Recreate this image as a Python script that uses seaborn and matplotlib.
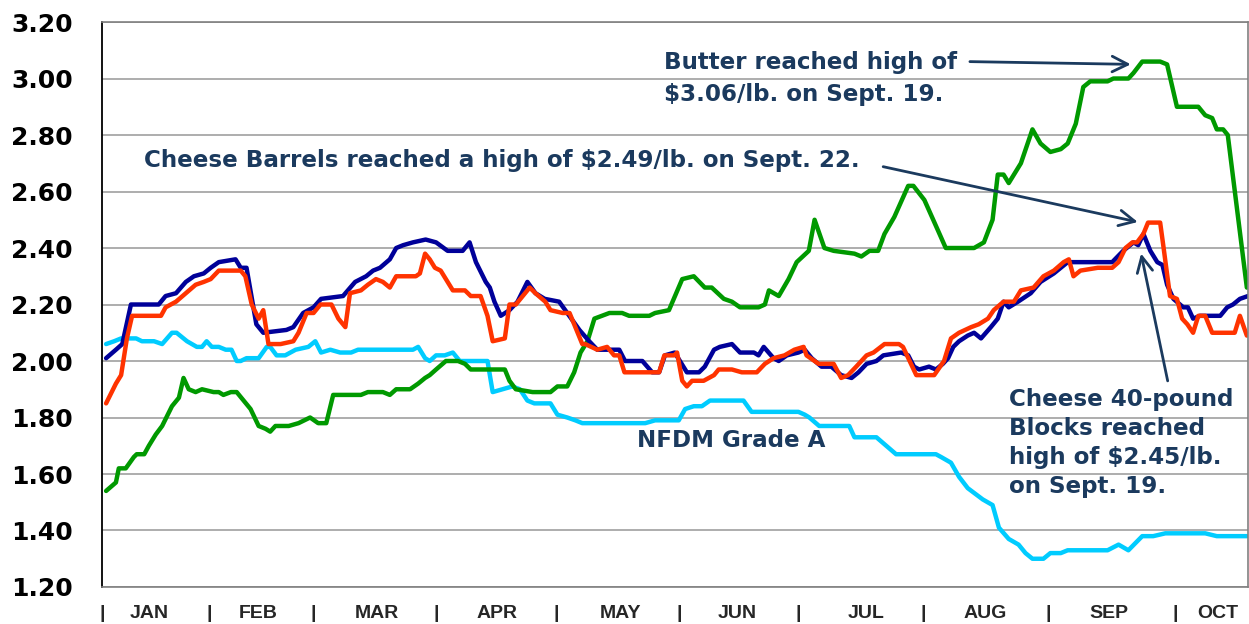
import numpy as np
import pandas as pd
import matplotlib
matplotlib.use('Agg')
import matplotlib.pyplot as plt
import seaborn as sns

# wholesale dairy prices, $/lb, by trading day of the year
butter = [(0, 1.54), (1.7, 1.57), (2.2, 1.62), (3.4, 1.62), (4.8, 1.66), (5.3, 1.67), (6.6, 1.67),
          (7.4, 1.70), (8.6, 1.74), (9.7, 1.77), (11.4, 1.84), (12.6, 1.87), (13.4, 1.94), (14.3, 1.90),
          (15.5, 1.89), (16.6, 1.90), (18.6, 1.89), (19.5, 1.89), (20.3, 1.88), (21.6, 1.89), (22.6, 1.89),
          (23.4, 1.87), (25.0, 1.83), (26.4, 1.77), (27.6, 1.76), (28.4, 1.75), (29.3, 1.77), (31.6, 1.77),
          (33.3, 1.78), (35.3, 1.80), (36.7, 1.78), (38.1, 1.78), (39.3, 1.88), (44.1, 1.88), (45.3, 1.89),
          (47.9, 1.89), (49.1, 1.88), (50.2, 1.90), (52.6, 1.90), (54.0, 1.92), (55.2, 1.94), (56.0, 1.95),
          (57.1, 1.97), (58.8, 2.00), (60.9, 2.00), (62.1, 1.99), (63.1, 1.97), (69.0, 1.97), (69.8, 1.93),
          (70.9, 1.90), (73.8, 1.89), (76.9, 1.89), (78.1, 1.91), (79.8, 1.91), (81.0, 1.96), (82.1, 2.03),
          (83.3, 2.07), (84.5, 2.15), (87.1, 2.17), (89.3, 2.17), (90.5, 2.16), (94.0, 2.16), (95.0, 2.17),
          (97.4, 2.18), (99.7, 2.29), (101.7, 2.30), (103.6, 2.26), (104.8, 2.26), (106.9, 2.22), (108.3, 2.21),
          (109.7, 2.19), (112.9, 2.19), (114.0, 2.20), (114.7, 2.25), (116.4, 2.23), (118.1, 2.29), (119.5, 2.35),
          (121.6, 2.39), (122.6, 2.50), (124.3, 2.40), (125.9, 2.39), (129.5, 2.38), (130.7, 2.37), (132.1, 2.39),
          (133.6, 2.39), (134.7, 2.45), (136.4, 2.51), (138.8, 2.62), (139.7, 2.62), (141.6, 2.57), (144.0, 2.46),
          (145.3, 2.40), (150.2, 2.40), (151.9, 2.42), (153.4, 2.50), (154.3, 2.66), (155.3, 2.66), (156.2, 2.63),
          (158.3, 2.70), (160.3, 2.82), (161.7, 2.77), (163.4, 2.74), (165.2, 2.75), (166.4, 2.77), (167.8, 2.84),
          (169.1, 2.97), (170.3, 2.99), (173.3, 2.99), (174.3, 3.00), (176.9, 3.00), (177.8, 3.02), (179.3, 3.06),
          (182.4, 3.06), (183.6, 3.05), (185.3, 2.90), (189.0, 2.90), (190.2, 2.87), (191.4, 2.86), (192.2, 2.82),
          (193.3, 2.82), (194.1, 2.80), (197.4, 2.26)]

barrels = [(0, 1.85), (1.7, 1.92), (2.6, 1.95), (3.6, 2.08), (4.5, 2.16), (9.5, 2.16), (10.3, 2.19),
           (12.1, 2.21), (13.8, 2.24), (15.5, 2.27), (16.9, 2.28), (18.1, 2.29), (19.5, 2.32), (23.3, 2.32),
           (24.1, 2.30), (25.2, 2.20), (26.4, 2.15), (27.2, 2.18), (28.1, 2.06), (30.2, 2.06), (32.4, 2.07),
           (33.3, 2.10), (34.7, 2.17), (35.9, 2.17), (37.1, 2.20), (39.0, 2.20), (40.2, 2.15), (41.4, 2.12),
           (42.2, 2.24), (44.1, 2.25), (45.3, 2.27), (46.7, 2.29), (47.9, 2.28), (49.1, 2.26), (50.2, 2.30),
           (53.6, 2.30), (54.3, 2.31), (55.2, 2.38), (56.0, 2.36), (56.9, 2.33), (57.9, 2.32), (58.8, 2.29),
           (60.0, 2.25), (62.1, 2.25), (63.1, 2.23), (64.8, 2.23), (66.0, 2.16), (66.9, 2.07), (69.0, 2.08),
           (69.8, 2.20), (70.9, 2.20), (72.1, 2.23), (73.3, 2.26), (74.3, 2.24), (76.0, 2.21), (76.9, 2.18),
           (79.0, 2.17), (80.2, 2.17), (82.4, 2.06), (82.9, 2.06), (85.0, 2.04), (86.7, 2.05), (87.9, 2.02),
           (88.8, 2.02), (89.7, 1.96), (95.7, 1.96), (96.6, 2.02), (98.3, 2.02), (98.8, 2.03), (99.7, 1.93),
           (100.5, 1.91), (101.4, 1.93), (103.4, 1.93), (105.2, 1.95), (106.0, 1.97), (108.3, 1.97), (110.0, 1.96),
           (112.6, 1.96), (114.0, 1.99), (115.5, 2.01), (117.4, 2.02), (119.1, 2.04), (120.7, 2.05), (121.2, 2.02),
           (123.3, 1.99), (125.9, 1.99), (127.2, 1.94), (128.4, 1.95), (129.8, 1.98), (131.6, 2.02), (132.8, 2.03),
           (134.7, 2.06), (137.2, 2.06), (137.9, 2.05), (140.2, 1.95), (143.3, 1.95), (145.0, 2.00), (146.2, 2.08),
           (147.6, 2.10), (149.7, 2.12), (151.0, 2.13), (152.6, 2.15), (153.6, 2.18), (155.3, 2.21), (157.1, 2.21),
           (158.3, 2.25), (160.5, 2.26), (162.2, 2.30), (164.0, 2.32), (165.7, 2.35), (166.6, 2.36), (167.4, 2.30),
           (168.6, 2.32), (171.6, 2.33), (174.1, 2.33), (175.2, 2.35), (176.4, 2.40), (177.6, 2.42), (178.4, 2.42),
           (179.5, 2.45), (180.3, 2.49), (182.4, 2.49), (183.0, 2.40), (184.1, 2.23), (185.3, 2.22), (186.2, 2.15),
           (187.1, 2.13), (188.1, 2.10), (189.0, 2.16), (190.2, 2.16), (191.4, 2.10), (195.3, 2.10), (196.2, 2.16),
           (197.4, 2.09)]

blocks = [(0, 2.01), (1.7, 2.04), (2.8, 2.06), (4.3, 2.20), (9.1, 2.20), (10.3, 2.23), (12.1, 2.24),
          (13.8, 2.28), (15.2, 2.30), (16.9, 2.31), (18.1, 2.33), (19.5, 2.35), (22.4, 2.36), (23.3, 2.33),
          (24.3, 2.33), (26.0, 2.13), (27.2, 2.10), (31.2, 2.11), (32.4, 2.12), (34.1, 2.17), (35.9, 2.19),
          (37.2, 2.22), (41.0, 2.23), (43.1, 2.28), (45.0, 2.30), (46.2, 2.32), (47.4, 2.33), (49.1, 2.36),
          (50.2, 2.40), (51.4, 2.41), (53.1, 2.42), (55.3, 2.43), (57.1, 2.42), (59.1, 2.39), (61.7, 2.39),
          (62.9, 2.42), (64.0, 2.35), (65.7, 2.28), (66.4, 2.26), (67.2, 2.21), (68.3, 2.16), (69.8, 2.18),
          (71.2, 2.21), (72.9, 2.28), (74.3, 2.24), (75.9, 2.22), (78.4, 2.21), (79.8, 2.17), (81.9, 2.11),
          (83.6, 2.07), (85.0, 2.04), (88.8, 2.04), (89.8, 2.00), (92.8, 2.00), (94.5, 1.96), (95.7, 1.96),
          (96.7, 2.02), (98.4, 2.03), (99.3, 2.00), (100.5, 1.96), (102.6, 1.96), (103.6, 1.98), (105.2, 2.04),
          (106.2, 2.05), (108.3, 2.06), (109.7, 2.03), (112.1, 2.03), (112.9, 2.02), (113.8, 2.05), (115.5, 2.01),
          (116.4, 2.00), (117.8, 2.02), (119.8, 2.03), (120.9, 2.04), (122.1, 2.01), (123.8, 1.98), (125.5, 1.98),
          (127.2, 1.95), (129.0, 1.94), (130.2, 1.96), (131.6, 1.99), (133.3, 2.00), (134.5, 2.02), (137.6, 2.03),
          (138.8, 2.02), (139.8, 1.98), (140.7, 1.97), (142.4, 1.98), (143.6, 1.97), (144.8, 1.99), (145.7, 2.01),
          (146.6, 2.05), (147.6, 2.07), (149.1, 2.09), (150.2, 2.10), (151.4, 2.08), (153.1, 2.12), (154.3, 2.15),
          (155.3, 2.21), (156.2, 2.19), (157.8, 2.21), (160.0, 2.24), (161.7, 2.28), (164.0, 2.31), (166.4, 2.35),
          (174.1, 2.35), (176.0, 2.39), (177.8, 2.42), (178.6, 2.41), (179.5, 2.45), (180.7, 2.39), (181.9, 2.35),
          (182.8, 2.34), (183.6, 2.27), (184.7, 2.22), (186.4, 2.19), (187.2, 2.19), (188.1, 2.15), (189.3, 2.16),
          (192.8, 2.16), (194.0, 2.19), (195.0, 2.20), (196.2, 2.22), (197.6, 2.23)]

nfdm = [(0, 2.06), (1.4, 2.07), (2.6, 2.08), (5.2, 2.08), (6.2, 2.07), (8.3, 2.07), (9.7, 2.06), (11.4, 2.10),
        (12.2, 2.10), (14.0, 2.07), (15.7, 2.05), (16.6, 2.05), (17.4, 2.07), (18.3, 2.05), (19.5, 2.05),
        (20.7, 2.04), (21.7, 2.04), (22.6, 2.00), (23.3, 2.00), (24.3, 2.01), (26.4, 2.01), (27.8, 2.05),
        (28.4, 2.05), (29.5, 2.02), (31.0, 2.02), (32.8, 2.04), (35.0, 2.05), (36.2, 2.07), (37.2, 2.03),
        (38.8, 2.04), (40.5, 2.03), (42.4, 2.03), (43.6, 2.04), (53.1, 2.04), (54.0, 2.05), (55.2, 2.01),
        (56.0, 2.00), (57.1, 2.02), (58.6, 2.02), (60.0, 2.03), (61.2, 2.00), (66.0, 2.00), (66.9, 1.89),
        (68.6, 1.90), (70.3, 1.91), (71.6, 1.90), (72.9, 1.86), (74.1, 1.85), (76.9, 1.85), (78.1, 1.81),
        (79.8, 1.80), (81.2, 1.79), (82.4, 1.78), (87.1, 1.78), (93.3, 1.78), (95.0, 1.79), (99.1, 1.79),
        (100.2, 1.83), (101.7, 1.84), (103.1, 1.84), (104.5, 1.86), (110.3, 1.86), (111.7, 1.82), (119.8, 1.82),
        (120.9, 1.81), (121.7, 1.80), (123.4, 1.77), (128.6, 1.77), (129.5, 1.73), (133.3, 1.73), (136.7, 1.67),
        (143.6, 1.67), (144.5, 1.66), (146.2, 1.64), (147.6, 1.59), (149.1, 1.55), (151.7, 1.51), (153.4, 1.49),
        (154.5, 1.41), (156.2, 1.37), (157.9, 1.35), (159.1, 1.32), (160.3, 1.30), (162.2, 1.30), (163.4, 1.32),
        (165.2, 1.32), (166.4, 1.33), (173.3, 1.33), (175.2, 1.35), (176.9, 1.33), (179.3, 1.38), (181.2, 1.38),
        (183.3, 1.39), (190.2, 1.39), (192.2, 1.38), (197.4, 1.38)]

months = ['JAN', 'FEB', 'MAR', 'APR', 'MAY', 'JUN', 'JUL', 'AUG', 'SEP', 'OCT']
month_mid = [7.4, 26.4, 46.9, 67.6, 89.1, 109.3, 131.6, 152.2, 173.6, 192.4]
month_sep = [-0.7, 17.8, 35.9, 57.1, 77.9, 99.1, 119.8, 141.4, 163.1, 185.0]

series = {'NFDM Grade A': nfdm, 'Butter': butter, 'Blocks': blocks, 'Barrels': barrels}
colors = {'NFDM Grade A': '#00CCFF', 'Butter': '#009900', 'Blocks': '#000099', 'Barrels': '#FF3300'}

rows = []
for name, pts in series.items():
    for d, p in pts:
        rows.append({'day': d, 'price': p, 'product': name})
df = pd.DataFrame(rows)

sns.set_style('white')
plt.rcParams['font.family'] = ['DejaVu Sans']

fig = plt.figure(figsize=(12.49, 6.24), dpi=100)
ax = fig.add_axes([0.0817, 0.0593, 0.9175, 0.9054])

sns.lineplot(data=df, x='day', y='price', hue='product', hue_order=list(series.keys()),
             palette=colors, estimator=None, sort=False, linewidth=3.2, legend=False, ax=ax)

ax.set_xlim(0, 197.6)
ax.set_ylim(1.2, 3.2)
ax.set_yticks(np.arange(1.2, 3.21, 0.2))
ax.set_yticklabels(['%.2f' % v for v in np.arange(1.2, 3.21, 0.2)], fontsize=18, fontweight='bold')
ax.grid(axis='y', color='#A0A0A0', linewidth=1.2)
ax.set_axisbelow(True)
ax.tick_params(axis='y', length=7, width=1.2, color='#A0A0A0', pad=14, labelcolor='black')

ax.set_xticks(month_sep + month_mid)
ax.set_xticklabels(['|'] * len(month_sep) + months, fontsize=14, fontweight='bold',
                   family='Liberation Sans')
ax.tick_params(axis='x', length=0, pad=13)
ax.set_xlabel('')
ax.set_ylabel('')

for side in ['top', 'right', 'bottom']:
    ax.spines[side].set_color('#808080')
    ax.spines[side].set_linewidth(1.2)
ax.spines['left'].set_color('black')
ax.spines['left'].set_linewidth(1.3)

note = dict(color='#1B3A5E', fontsize=16.6, fontweight='bold', family='DejaVu Sans')
arrow = dict(arrowstyle='->', color='#1B3A5E', lw=2, mutation_scale=28)

ax.text(96.6, 3.00, 'Butter reached high of\n$3.06/lb. on Sept. 19.', va='center', ha='left',
        linespacing=1.45, **note)
ax.annotate('', xy=(177.8, 3.05), xytext=(149.0, 3.06), arrowprops=arrow)

ax.text(6.6, 2.71, 'Cheese Barrels reached a high of $2.49/lb. on Sept. 22.', va='center', ha='left', **note)
ax.annotate('', xy=(179.0, 2.49), xytext=(134.0, 2.69), arrowprops=arrow)

ax.text(91.9, 1.72, 'NFDM Grade A', va='center', ha='left', **note)

ax.text(156.2, 1.71, 'Cheese 40-pound\nBlocks reached\nhigh of $2.45/lb.\non Sept. 19.', va='center',
        ha='left', linespacing=1.32, **note)
ax.annotate('', xy=(179.0, 2.39), xytext=(183.8, 1.92), arrowprops=arrow)

fig.savefig('out.png', dpi=100)
